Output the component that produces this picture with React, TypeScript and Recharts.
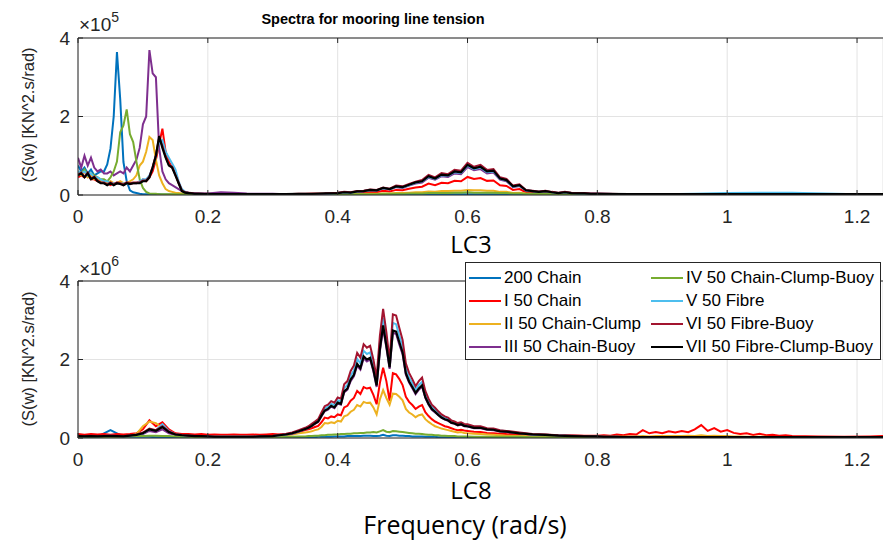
import { LineChart, Line, XAxis, YAxis, CartesianGrid } from 'recharts'

// ---------- LC3 (values in 1e5 KN^2.s/rad) ----------
const lc3Freq = [
  0, 0.005, 0.01, 0.015, 0.02, 0.025, 0.03, 0.035, 0.04, 0.045, 0.05, 0.055, 0.06, 0.065, 0.07, 0.075, 0.08, 0.085, 0.09, 0.095,
  0.1, 0.105, 0.11, 0.115, 0.12, 0.125, 0.13, 0.135, 0.14, 0.145, 0.15, 0.155, 0.16, 0.165, 0.17, 0.175, 0.18, 0.185, 0.19, 0.195, 0.2,
  0.22, 0.24, 0.26, 0.28, 0.3, 0.32, 0.34, 0.36, 0.38,
  0.4, 0.41, 0.42, 0.43, 0.44, 0.45, 0.46, 0.47, 0.48, 0.49, 0.5, 0.51, 0.52, 0.53, 0.54, 0.55, 0.56, 0.57, 0.58, 0.59,
  0.6, 0.61, 0.62, 0.63, 0.64, 0.65, 0.66, 0.67, 0.68, 0.69, 0.7, 0.71, 0.72, 0.73, 0.74, 0.75, 0.76, 0.77, 0.78, 0.79, 0.8,
  0.85, 0.9, 0.95, 1, 1.05, 1.1, 1.15, 1.2, 1.24,
]

const lc3Chain200 = [
  0.75, 0.6, 0.7, 0.55, 0.65, 0.5, 0.55, 0.6, 0.6, 0.78, 1.18, 2.0, 3.64, 2.45, 0.84, 0.35, 0.12, 0.07, 0.05, 0.03,
  0.02, 0.02, 0.02, 0.02, 0.02, 0.02, 0.01, 0.01, 0.01, 0.01, 0.01, 0.01, 0.01, 0.01, 0.01, 0.01, 0.01, 0.01, 0.01, 0.01, 0.01,
  0.01, 0.01, 0.01, 0.01, 0.01, 0.01, 0.01, 0.01, 0.01,
  0.01, 0.01, 0.01, 0.01, 0.01, 0.01, 0.01, 0.01, 0.01, 0.01, 0.01, 0.01, 0.01, 0.01, 0.02, 0.02, 0.02, 0.02, 0.02, 0.02,
  0.02, 0.02, 0.02, 0.02, 0.02, 0.02, 0.01, 0.01, 0.01, 0.01, 0.01, 0.01, 0.01, 0.01, 0.01, 0.01, 0.01, 0.01, 0.01, 0.01, 0.01,
  0.01, 0.01, 0.01, 0.01, 0.01, 0.01, 0.01, 0.01, 0.01,
]
const lc3Chain50 = [
  0.45, 0.5, 0.45, 0.5, 0.4, 0.4, 0.35, 0.35, 0.3, 0.3, 0.25, 0.3, 0.28, 0.3, 0.25, 0.3, 0.28, 0.3, 0.3, 0.35,
  0.4, 0.35, 0.45, 0.6, 0.9, 1.3, 1.69, 1.1, 0.85, 0.7, 0.55, 0.3, 0.12, 0.08, 0.06, 0.05, 0.04, 0.04, 0.03, 0.03, 0.03,
  0.03, 0.03, 0.02, 0.02, 0.02, 0.02, 0.02, 0.03, 0.03,
  0.03, 0.04, 0.04, 0.05, 0.06, 0.08, 0.07, 0.11, 0.09, 0.13, 0.12, 0.16, 0.19, 0.21, 0.29, 0.25, 0.31, 0.3, 0.36, 0.35,
  0.46, 0.41, 0.43, 0.36, 0.37, 0.25, 0.23, 0.13, 0.15, 0.07, 0.06, 0.05, 0.06, 0.04, 0.03, 0.04, 0.03, 0.02, 0.02, 0.02, 0.02,
  0.02, 0.02, 0.02, 0.02, 0.02, 0.02, 0.02, 0.02, 0.02,
]
const lc3ChainClump = [
  0.55, 0.5, 0.6, 0.45, 0.5, 0.4, 0.45, 0.35, 0.35, 0.3, 0.35, 0.3, 0.3, 0.35, 0.3, 0.3, 0.35, 0.4, 0.5, 0.75,
  0.85, 1.1, 1.48, 1.4, 0.9, 0.5, 0.3, 0.15, 0.1, 0.08, 0.06, 0.05, 0.04, 0.03, 0.03, 0.03, 0.02, 0.02, 0.02, 0.02, 0.02,
  0.02, 0.02, 0.02, 0.02, 0.02, 0.02, 0.02, 0.02, 0.02,
  0.02, 0.02, 0.02, 0.03, 0.03, 0.03, 0.03, 0.04, 0.04, 0.05, 0.05, 0.06, 0.07, 0.07, 0.09, 0.08, 0.1, 0.1, 0.11, 0.11,
  0.13, 0.12, 0.12, 0.11, 0.11, 0.08, 0.08, 0.05, 0.06, 0.04, 0.03, 0.03, 0.03, 0.02, 0.02, 0.02, 0.02, 0.02, 0.02, 0.02, 0.02,
  0.02, 0.02, 0.02, 0.02, 0.02, 0.02, 0.02, 0.02, 0.02,
]
const lc3ChainBuoy = [
  0.95, 0.7, 1.0, 0.75, 0.95, 0.7, 0.6, 0.65, 0.55, 0.55, 0.6, 0.5, 0.55, 0.6, 0.55, 0.7, 0.6, 0.75, 0.9, 1.2,
  1.8, 2.0, 3.69, 3.1, 3.0, 1.2, 0.6, 0.4, 0.3, 0.25, 0.2, 0.15, 0.1, 0.08, 0.06, 0.05, 0.05, 0.04, 0.04, 0.04, 0.04,
  0.07, 0.06, 0.04, 0.03, 0.03, 0.02, 0.02, 0.02, 0.03,
  0.05, 0.06, 0.06, 0.08, 0.09, 0.12, 0.11, 0.17, 0.14, 0.2, 0.18, 0.24, 0.29, 0.32, 0.44, 0.39, 0.48, 0.46, 0.55, 0.53,
  0.71, 0.63, 0.66, 0.55, 0.57, 0.39, 0.35, 0.2, 0.23, 0.11, 0.09, 0.07, 0.09, 0.06, 0.05, 0.06, 0.05, 0.04, 0.04, 0.03, 0.03,
  0.02, 0.02, 0.02, 0.02, 0.02, 0.02, 0.02, 0.02, 0.02,
]
const lc3ChainClumpBuoy = [
  0.6, 0.55, 0.65, 0.5, 0.55, 0.5, 0.45, 0.4, 0.4, 0.35, 0.45, 0.6, 0.85, 1.6, 1.77, 2.18, 1.55, 1.35, 0.85, 0.4,
  0.18, 0.08, 0.04, 0.03, 0.03, 0.02, 0.02, 0.02, 0.02, 0.02, 0.02, 0.02, 0.02, 0.02, 0.02, 0.02, 0.02, 0.02, 0.02, 0.02, 0.02,
  0.02, 0.02, 0.02, 0.02, 0.02, 0.02, 0.02, 0.02, 0.02,
  0.01, 0.02, 0.02, 0.02, 0.02, 0.02, 0.02, 0.03, 0.03, 0.03, 0.03, 0.04, 0.04, 0.04, 0.05, 0.05, 0.05, 0.05, 0.06, 0.06,
  0.07, 0.06, 0.06, 0.06, 0.06, 0.05, 0.05, 0.04, 0.04, 0.03, 0.03, 0.03, 0.03, 0.02, 0.02, 0.02, 0.02, 0.02, 0.02, 0.02, 0.02,
  0.01, 0.01, 0.01, 0.01, 0.01, 0.01, 0.01, 0.01, 0.01,
]
const lc3Fibre = [
  0.6, 0.55, 0.6, 0.5, 0.55, 0.45, 0.45, 0.4, 0.35, 0.35, 0.3, 0.3, 0.3, 0.28, 0.3, 0.28, 0.3, 0.3, 0.3, 0.35,
  0.4, 0.4, 0.5, 0.7, 1.0, 1.35, 1.4, 1.1, 0.95, 0.8, 0.65, 0.35, 0.15, 0.08, 0.06, 0.05, 0.04, 0.04, 0.03, 0.03, 0.03,
  0.02, 0.02, 0.02, 0.02, 0.02, 0.02, 0.02, 0.02, 0.02,
  0.05, 0.07, 0.06, 0.09, 0.1, 0.12, 0.12, 0.17, 0.15, 0.21, 0.19, 0.25, 0.31, 0.34, 0.46, 0.41, 0.5, 0.49, 0.58, 0.56,
  0.75, 0.66, 0.7, 0.58, 0.6, 0.41, 0.37, 0.21, 0.24, 0.12, 0.1, 0.08, 0.1, 0.07, 0.05, 0.07, 0.05, 0.04, 0.04, 0.03, 0.03,
  0.02, 0.02, 0.03, 0.05, 0.06, 0.06, 0.04, 0.02, 0.02,
]
const lc3FibreBuoy = [
  0.52, 0.57, 0.47, 0.57, 0.42, 0.47, 0.37, 0.32, 0.32, 0.27, 0.32, 0.27, 0.32, 0.3, 0.27, 0.32, 0.3, 0.32, 0.32, 0.32,
  0.37, 0.37, 0.47, 0.72, 1.02, 1.45, 1.25, 0.97, 0.77, 0.72, 0.52, 0.32, 0.12, 0.07, 0.06, 0.05, 0.04, 0.04, 0.03, 0.03, 0.03,
  0.02, 0.02, 0.02, 0.02, 0.02, 0.02, 0.03, 0.03, 0.04,
  0.06, 0.08, 0.07, 0.1, 0.11, 0.14, 0.13, 0.19, 0.16, 0.24, 0.22, 0.28, 0.34, 0.38, 0.51, 0.45, 0.56, 0.53, 0.64, 0.62,
  0.82, 0.72, 0.77, 0.64, 0.66, 0.45, 0.41, 0.24, 0.27, 0.13, 0.11, 0.09, 0.11, 0.08, 0.06, 0.08, 0.06, 0.05, 0.05, 0.04, 0.04,
  0.02, 0.02, 0.02, 0.02, 0.02, 0.02, 0.02, 0.02, 0.02,
]
const lc3FibreClumpBuoy = [
  0.5, 0.55, 0.45, 0.55, 0.4, 0.45, 0.35, 0.3, 0.3, 0.25, 0.3, 0.25, 0.3, 0.28, 0.25, 0.3, 0.28, 0.3, 0.3, 0.3,
  0.35, 0.35, 0.45, 0.7, 1.0, 1.5, 1.2, 0.95, 0.75, 0.7, 0.5, 0.3, 0.1, 0.06, 0.05, 0.04, 0.03, 0.03, 0.03, 0.02, 0.02,
  0.02, 0.02, 0.02, 0.02, 0.02, 0.02, 0.03, 0.03, 0.04,
  0.05, 0.07, 0.06, 0.09, 0.1, 0.13, 0.12, 0.18, 0.15, 0.22, 0.2, 0.26, 0.32, 0.35, 0.48, 0.42, 0.52, 0.5, 0.6, 0.58,
  0.77, 0.68, 0.72, 0.6, 0.62, 0.42, 0.38, 0.22, 0.25, 0.12, 0.1, 0.08, 0.1, 0.07, 0.05, 0.07, 0.05, 0.04, 0.04, 0.03, 0.03,
  0.02, 0.02, 0.02, 0.02, 0.02, 0.02, 0.02, 0.02, 0.02,
]

// ---------- LC8 (values in 1e6 KN^2.s/rad) ----------
const lc8Freq = [
  0, 0.01, 0.02, 0.03, 0.04, 0.05, 0.06, 0.07, 0.08, 0.09, 0.1, 0.11, 0.12, 0.13, 0.14, 0.15, 0.16, 0.17, 0.18, 0.19,
  0.2, 0.21, 0.22, 0.23, 0.24, 0.25, 0.26, 0.27, 0.28, 0.29, 0.3,
  0.31, 0.32, 0.33, 0.34,
  0.35, 0.355, 0.36, 0.365, 0.37, 0.375, 0.38, 0.385, 0.39, 0.395, 0.4, 0.405, 0.41, 0.415, 0.42, 0.425, 0.43, 0.435, 0.44, 0.445,
  0.45, 0.455, 0.46, 0.465, 0.47, 0.475, 0.48, 0.485, 0.49, 0.495, 0.5, 0.505, 0.51, 0.515, 0.52, 0.525, 0.53, 0.535, 0.54, 0.545,
  0.55, 0.555, 0.56, 0.565, 0.57, 0.575, 0.58, 0.585, 0.59, 0.595, 0.6,
  0.61, 0.62, 0.63, 0.64, 0.65, 0.66,
  0.68, 0.7, 0.72, 0.74, 0.76, 0.78, 0.8,
  0.81, 0.82, 0.83, 0.84, 0.85, 0.86, 0.87, 0.88, 0.89, 0.9, 0.91, 0.92, 0.93, 0.94, 0.95, 0.96, 0.97, 0.98, 0.99, 1,
  1.01, 1.02, 1.03, 1.04, 1.05, 1.06, 1.07, 1.08, 1.09, 1.1, 1.14, 1.18, 1.22, 1.24,
]

const lc8Chain200 = [
  0.03, 0.03, 0.03, 0.03, 0.12, 0.2, 0.12, 0.04, 0.03, 0.03, 0.03, 0.03, 0.02, 0.02, 0.02, 0.02, 0.02, 0.02, 0.02, 0.02,
  0.02, 0.02, 0.02, 0.02, 0.02, 0.02, 0.02, 0.02, 0.02, 0.02, 0.02,
  0.02, 0.02, 0.02, 0.02,
  0.02, 0.02, 0.02, 0.02, 0.03, 0.03, 0.03, 0.03, 0.03, 0.04, 0.04, 0.04, 0.04, 0.05, 0.05, 0.05, 0.05, 0.05, 0.06, 0.06,
  0.06, 0.05, 0.05, 0.06, 0.08, 0.06, 0.05, 0.07, 0.07, 0.06, 0.06, 0.05, 0.05, 0.04, 0.04, 0.04, 0.04, 0.03, 0.03, 0.03,
  0.03, 0.02, 0.02, 0.02, 0.02, 0.02, 0.02, 0.02, 0.02, 0.02, 0.02,
  0.02, 0.02, 0.02, 0.02, 0.02, 0.02,
  0.01, 0.01, 0.01, 0.01, 0.01, 0.01, 0.01,
  0.01, 0.01, 0.01, 0.01, 0.01, 0.01, 0.01, 0.01, 0.01, 0.01, 0.01, 0.01, 0.01, 0.01, 0.01, 0.01, 0.01, 0.01, 0.01, 0.01,
  0.01, 0.01, 0.01, 0.01, 0.01, 0.01, 0.01, 0.01, 0.01, 0.01, 0.01, 0.01, 0.01, 0.01,
]
const lc8Chain50 = [
  0.1, 0.08, 0.1, 0.09, 0.1, 0.08, 0.1, 0.09, 0.1, 0.12, 0.22, 0.45, 0.3, 0.4, 0.22, 0.12, 0.1, 0.1, 0.09, 0.1,
  0.08, 0.09, 0.08, 0.08, 0.09, 0.08, 0.08, 0.09, 0.08, 0.09, 0.1,
  0.09, 0.1, 0.12, 0.15,
  0.2, 0.22, 0.25, 0.28, 0.31, 0.4, 0.52, 0.5, 0.55, 0.53, 0.6, 0.58, 0.78, 0.82, 0.95, 1.02, 1.2, 1.12, 1.3, 1.26,
  1.28, 1.1, 0.86, 1.4, 1.79, 1.45, 0.95, 1.65, 1.62, 1.5, 1.35, 1.05, 0.92, 0.84, 0.74, 0.8, 0.84, 0.66, 0.56, 0.48,
  0.42, 0.38, 0.34, 0.3, 0.28, 0.25, 0.22, 0.2, 0.21, 0.19, 0.18,
  0.16, 0.15, 0.13, 0.12, 0.11, 0.1,
  0.09, 0.08, 0.08, 0.07, 0.07, 0.06, 0.06,
  0.07, 0.06, 0.09, 0.07, 0.1, 0.09, 0.2, 0.12, 0.15, 0.12, 0.17, 0.14, 0.18, 0.15, 0.22, 0.33, 0.18, 0.25, 0.16, 0.2,
  0.13, 0.1, 0.12, 0.08, 0.11, 0.07, 0.08, 0.06, 0.07, 0.05, 0.04, 0.03, 0.04, 0.05,
]
const lc8ChainClump = [
  0.04, 0.04, 0.05, 0.04, 0.04, 0.05, 0.04, 0.05, 0.06, 0.1, 0.3, 0.42, 0.38, 0.25, 0.15, 0.08, 0.06, 0.05, 0.04, 0.04,
  0.04, 0.03, 0.03, 0.03, 0.03, 0.03, 0.03, 0.03, 0.03, 0.04, 0.05,
  0.06, 0.07, 0.09, 0.12,
  0.14, 0.15, 0.17, 0.2, 0.22, 0.28, 0.38, 0.37, 0.4, 0.38, 0.44, 0.42, 0.55, 0.58, 0.67, 0.72, 0.84, 0.8, 0.92, 0.89,
  0.9, 0.78, 0.6, 0.98, 1.22, 1.02, 0.85, 1.13, 1.12, 1.05, 0.96, 0.74, 0.65, 0.6, 0.53, 0.58, 0.6, 0.48, 0.41, 0.35,
  0.3, 0.27, 0.24, 0.22, 0.2, 0.18, 0.16, 0.14, 0.15, 0.13, 0.12,
  0.11, 0.1, 0.09, 0.08, 0.07, 0.06,
  0.05, 0.04, 0.04, 0.04, 0.03, 0.03, 0.03,
  0.03, 0.03, 0.03, 0.04, 0.04, 0.04, 0.05, 0.04, 0.05, 0.05, 0.05, 0.05, 0.05, 0.06, 0.05, 0.07, 0.05, 0.06, 0.05, 0.05,
  0.04, 0.04, 0.03, 0.03, 0.03, 0.03, 0.02, 0.02, 0.02, 0.02, 0.02, 0.02, 0.02, 0.02,
]
const lc8ChainBuoy = [
  0.04, 0.04, 0.04, 0.04, 0.05, 0.05, 0.04, 0.04, 0.05, 0.07, 0.1, 0.18, 0.15, 0.22, 0.12, 0.08, 0.06, 0.05, 0.05, 0.04,
  0.04, 0.03, 0.03, 0.03, 0.03, 0.03, 0.03, 0.03, 0.03, 0.04, 0.05,
  0.06, 0.08, 0.11, 0.16,
  0.22, 0.25, 0.3, 0.36, 0.41, 0.55, 0.68, 0.72, 0.8, 0.76, 0.88, 0.85, 1.16, 1.23, 1.45, 1.57, 1.84, 1.74, 2.03, 1.95,
  2.0, 1.7, 1.3, 2.2, 2.8, 2.3, 1.76, 2.68, 2.65, 2.38, 2.13, 1.61, 1.41, 1.27, 1.12, 1.23, 1.31, 1.02, 0.85, 0.72,
  0.65, 0.58, 0.51, 0.47, 0.44, 0.38, 0.36, 0.32, 0.34, 0.3, 0.29,
  0.25, 0.25, 0.21, 0.2, 0.17, 0.15,
  0.12, 0.08, 0.07, 0.06, 0.05, 0.04, 0.03,
  0.02, 0.02, 0.02, 0.02, 0.02, 0.02, 0.02, 0.02, 0.02, 0.02, 0.02, 0.02, 0.02, 0.02, 0.02, 0.02, 0.02, 0.02, 0.02, 0.02,
  0.02, 0.02, 0.02, 0.02, 0.02, 0.02, 0.02, 0.02, 0.02, 0.02, 0.02, 0.02, 0.02, 0.02,
]
const lc8ChainClumpBuoy = [
  0.02, 0.02, 0.02, 0.02, 0.03, 0.03, 0.03, 0.03, 0.04, 0.05, 0.05, 0.06, 0.06, 0.05, 0.05, 0.04, 0.03, 0.03, 0.02, 0.02,
  0.02, 0.02, 0.02, 0.02, 0.02, 0.02, 0.02, 0.02, 0.02, 0.02, 0.02,
  0.02, 0.03, 0.03, 0.04,
  0.04, 0.05, 0.05, 0.06, 0.06, 0.07, 0.07, 0.08, 0.08, 0.09, 0.09, 0.1, 0.1, 0.11, 0.11, 0.12, 0.12, 0.13, 0.13, 0.14,
  0.14, 0.15, 0.14, 0.17, 0.2, 0.16, 0.15, 0.18, 0.17, 0.16, 0.15, 0.14, 0.13, 0.12, 0.11, 0.11, 0.1, 0.09, 0.08, 0.08,
  0.07, 0.07, 0.06, 0.06, 0.05, 0.05, 0.05, 0.04, 0.04, 0.04, 0.04,
  0.03, 0.03, 0.03, 0.03, 0.03, 0.03,
  0.03, 0.02, 0.02, 0.02, 0.02, 0.02, 0.02,
  0.02, 0.02, 0.02, 0.02, 0.02, 0.02, 0.02, 0.02, 0.02, 0.02, 0.02, 0.02, 0.02, 0.02, 0.02, 0.02, 0.02, 0.02, 0.02, 0.02,
  0.02, 0.02, 0.02, 0.02, 0.02, 0.02, 0.02, 0.02, 0.02, 0.02, 0.02, 0.02, 0.02, 0.02,
]
const lc8Fibre = [
  0.05, 0.04, 0.05, 0.04, 0.05, 0.06, 0.05, 0.04, 0.06, 0.08, 0.12, 0.22, 0.2, 0.35, 0.18, 0.1, 0.07, 0.06, 0.05, 0.05,
  0.04, 0.03, 0.03, 0.03, 0.03, 0.03, 0.03, 0.03, 0.04, 0.04, 0.05,
  0.07, 0.09, 0.13, 0.18,
  0.24, 0.28, 0.33, 0.39, 0.45, 0.6, 0.75, 0.79, 0.87, 0.84, 0.96, 0.93, 1.27, 1.35, 1.59, 1.72, 2.02, 1.9, 2.22, 2.14,
  2.18, 1.86, 1.43, 2.42, 3.06, 2.51, 1.88, 2.93, 2.9, 2.6, 2.33, 1.77, 1.54, 1.4, 1.23, 1.35, 1.43, 1.12, 0.93, 0.79,
  0.72, 0.63, 0.56, 0.51, 0.48, 0.42, 0.39, 0.35, 0.37, 0.33, 0.33,
  0.28, 0.28, 0.23, 0.22, 0.19, 0.17,
  0.13, 0.09, 0.08, 0.07, 0.06, 0.05, 0.04,
  0.03, 0.03, 0.03, 0.02, 0.02, 0.02, 0.02, 0.02, 0.02, 0.02, 0.02, 0.02, 0.02, 0.02, 0.02, 0.02, 0.02, 0.02, 0.02, 0.02,
  0.02, 0.02, 0.02, 0.02, 0.02, 0.02, 0.02, 0.02, 0.02, 0.02, 0.02, 0.02, 0.02, 0.02,
]
const lc8FibreBuoy = [
  0.06, 0.05, 0.06, 0.05, 0.06, 0.07, 0.06, 0.05, 0.07, 0.09, 0.14, 0.24, 0.2, 0.3, 0.17, 0.1, 0.08, 0.06, 0.06, 0.05,
  0.04, 0.04, 0.03, 0.03, 0.03, 0.03, 0.03, 0.04, 0.04, 0.05, 0.06,
  0.08, 0.1, 0.14, 0.2,
  0.26, 0.3, 0.36, 0.42, 0.48, 0.65, 0.81, 0.85, 0.94, 0.9, 1.03, 1.0, 1.37, 1.45, 1.71, 1.85, 2.17, 2.05, 2.39, 2.3,
  2.35, 2.0, 1.54, 2.6, 3.29, 2.7, 1.98, 3.15, 3.12, 2.8, 2.5, 1.9, 1.66, 1.5, 1.32, 1.45, 1.54, 1.2, 1.0, 0.85,
  0.77, 0.68, 0.6, 0.55, 0.52, 0.45, 0.42, 0.38, 0.4, 0.36, 0.35,
  0.3, 0.3, 0.25, 0.24, 0.2, 0.18,
  0.14, 0.1, 0.09, 0.07, 0.06, 0.05, 0.04,
  0.04, 0.03, 0.03, 0.03, 0.03, 0.03, 0.02, 0.02, 0.02, 0.02, 0.02, 0.02, 0.02, 0.02, 0.02, 0.02, 0.02, 0.02, 0.02, 0.02,
  0.02, 0.02, 0.02, 0.02, 0.02, 0.02, 0.02, 0.02, 0.02, 0.02, 0.02, 0.02, 0.02, 0.02,
]
const lc8FibreClumpBuoy = [
  0.05, 0.04, 0.05, 0.04, 0.05, 0.05, 0.05, 0.04, 0.06, 0.08, 0.12, 0.22, 0.18, 0.28, 0.15, 0.09, 0.07, 0.06, 0.05, 0.05,
  0.04, 0.03, 0.03, 0.03, 0.03, 0.03, 0.03, 0.03, 0.04, 0.04, 0.05,
  0.07, 0.09, 0.12, 0.17,
  0.23, 0.26, 0.31, 0.37, 0.42, 0.57, 0.7, 0.74, 0.82, 0.78, 0.9, 0.87, 1.19, 1.26, 1.49, 1.61, 1.89, 1.78, 2.08, 2.0,
  2.04, 1.74, 1.34, 2.26, 2.87, 2.35, 1.8, 2.74, 2.71, 2.44, 2.18, 1.65, 1.44, 1.3, 1.15, 1.26, 1.34, 1.04, 0.87, 0.74,
  0.67, 0.59, 0.52, 0.48, 0.45, 0.39, 0.37, 0.33, 0.35, 0.31, 0.3,
  0.26, 0.26, 0.22, 0.21, 0.17, 0.16,
  0.12, 0.09, 0.08, 0.06, 0.05, 0.04, 0.04,
  0.03, 0.03, 0.03, 0.02, 0.02, 0.02, 0.02, 0.02, 0.02, 0.02, 0.02, 0.02, 0.02, 0.02, 0.02, 0.02, 0.02, 0.02, 0.02, 0.02,
  0.02, 0.02, 0.02, 0.02, 0.02, 0.02, 0.02, 0.02, 0.02, 0.02, 0.02, 0.02, 0.02, 0.02,
]

const seriesNames = [
  '200 Chain',
  'I 50 Chain',
  'II 50 Chain-Clump',
  'III 50 Chain-Buoy',
  'IV 50 Chain-Clump-Buoy',
  'V 50 Fibre',
  'VI 50 Fibre-Buoy',
  'VII 50 Fibre-Clump-Buoy',
]
const seriesColors = ['#0072BD', '#FF0000', '#EDB120', '#7E2F8E', '#77AC30', '#4DBEEE', '#A2142F', '#000000']

const xTicks = [0, 0.2, 0.4, 0.6, 0.8, 1, 1.2]
const yTicks = [0, 2, 4]

const lc3Series = [lc3Chain200, lc3Chain50, lc3ChainClump, lc3ChainBuoy, lc3ChainClumpBuoy, lc3Fibre, lc3FibreBuoy, lc3FibreClumpBuoy]
const lc8Series = [lc8Chain200, lc8Chain50, lc8ChainClump, lc8ChainBuoy, lc8ChainClumpBuoy, lc8Fibre, lc8FibreBuoy, lc8FibreClumpBuoy]

function buildRows(freq: number[], series: number[][]) {
  return freq.map((f, i) => {
    const row: Record<string, number> = { f }
    series.forEach((s, k) => {
      row['s' + k] = s[i]
    })
    return row
  })
}

const lc3Rows = buildRows(lc3Freq, lc3Series)
const lc8Rows = buildRows(lc8Freq, lc8Series)

const AXIS = '#262626'
const FONT = '"Liberation Sans", Arial, Helvetica, sans-serif'
const LABEL_FONT = '"Open Sans", sans-serif'
const tickStyle = { fill: AXIS, fontSize: 19, fontFamily: FONT }

function SpectrumPanel({ rows, top }: { rows: Record<string, number>[]; top: number }) {
  return (
    <div style={{ position: 'absolute', left: 0, top }}>
      <LineChart width={883} height={244} data={rows} margin={{ top: 39, right: 0, bottom: 17, left: 48 }}>
        <CartesianGrid stroke="#e3e3e3" strokeWidth={1} />
        <XAxis
          dataKey="f"
          type="number"
          domain={[0, 1.24]}
          ticks={xTicks}
          allowDataOverflow
          height={30}
          tickSize={-5}
          tickMargin={20}
          tick={tickStyle}
          stroke={AXIS}
          interval={0}
        />
        <XAxis
          xAxisId="top"
          orientation="top"
          dataKey="f"
          type="number"
          domain={[0, 1.24]}
          ticks={xTicks}
          allowDataOverflow
          height={1}
          tickSize={-5}
          tickFormatter={() => ''}
          stroke={AXIS}
          interval={0}
        />
        <YAxis
          type="number"
          domain={[0, 4]}
          ticks={yTicks}
          allowDataOverflow
          width={30}
          tickSize={-5}
          tickMargin={13}
          tick={tickStyle}
          stroke={AXIS}
          interval={0}
        />
        {seriesNames.map((name, k) => (
          <Line
            key={name}
            name={name}
            type="linear"
            dataKey={'s' + k}
            stroke={seriesColors[k]}
            strokeWidth={k === 7 ? 2.2 : 2}
            dot={false}
            activeDot={false}
            isAnimationActive={false}
          />
        ))}
      </LineChart>
    </div>
  )
}

function LegendBox() {
  const cols = [seriesNames.slice(0, 4), seriesNames.slice(4)]
  return (
    <div
      style={{
        position: 'absolute',
        left: 465,
        top: 262,
        width: 414,
        height: 96,
        border: '1px solid #262626',
        background: '#fff',
        fontFamily: FONT,
        fontSize: 17,
        color: '#000',
      }}
    >
      {cols.map((col, c) =>
        col.map((name, r) => {
          const k = c * 4 + r
          return (
            <div
              key={name}
              style={{
                position: 'absolute',
                left: c === 0 ? 3 : 185,
                top: 3 + r * 23.3,
                height: 23,
                display: 'flex',
                alignItems: 'center',
                whiteSpace: 'nowrap',
              }}
            >
              <span style={{ display: 'inline-block', width: 32, height: 2, background: seriesColors[k], marginRight: 3 }} />
              <span>{name}</span>
            </div>
          )
        })
      )}
    </div>
  )
}

export default function App() {
  return (
    <div style={{ position: 'absolute', left: 0, top: 0, width: 883, height: 544, background: '#fff', overflow: 'hidden' }}>
      <SpectrumPanel rows={lc3Rows} top={-2} />
      <SpectrumPanel rows={lc8Rows} top={241} />
      <LegendBox />
      <svg width={883} height={544} style={{ position: 'absolute', left: 0, top: 0, pointerEvents: 'none' }}>
        <text x={373} y={24} textAnchor="middle" fontFamily={FONT} fontWeight="bold" fontSize={14.5} fill="#000">
          Spectra for mooring line tension
        </text>
        <text x={79} y={31} fontFamily={FONT} fontSize={19} fill={AXIS}>
          ×10<tspan dy={-9} fontSize={14}>5</tspan>
        </text>
        <text x={79} y={275} fontFamily={FONT} fontSize={19} fill={AXIS}>
          ×10<tspan dy={-9} fontSize={14}>6</tspan>
        </text>
        <text
          transform="translate(34,115) rotate(-90)"
          textAnchor="middle"
          fontFamily={FONT}
          fontSize={16.5}
          fill={AXIS}
        >
          (S(w) [KN^2.s/rad)
        </text>
        <text
          transform="translate(34,359) rotate(-90)"
          textAnchor="middle"
          fontFamily={FONT}
          fontSize={16.5}
          fill={AXIS}
        >
          (S(w) [KN^2.s/rad)
        </text>
        <text x={471} y={253} textAnchor="middle" fontFamily={LABEL_FONT} fontSize={24} fill="#000">
          LC3
        </text>
        <text x={471} y={499} textAnchor="middle" fontFamily={LABEL_FONT} fontSize={24} fill="#000">
          LC8
        </text>
        <text x={465} y={534} textAnchor="middle" fontFamily={LABEL_FONT} fontSize={25} fill="#000">
          Frequency (rad/s)
        </text>
      </svg>
    </div>
  )
}
